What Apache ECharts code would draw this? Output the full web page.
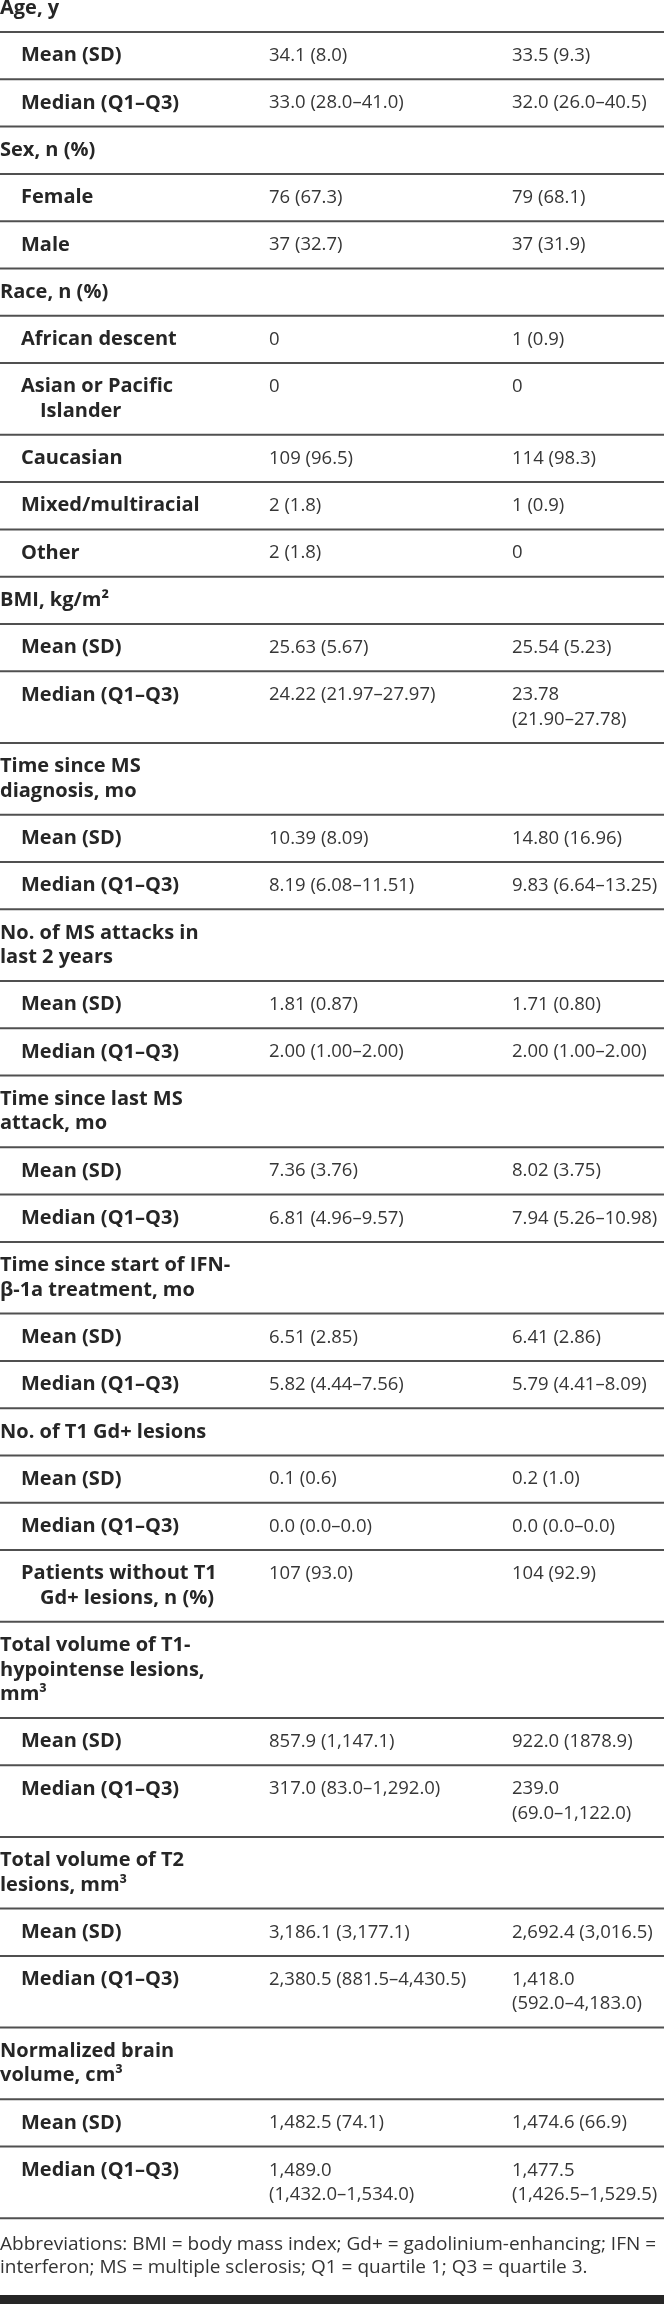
<!DOCTYPE html>
<html>
<head>
<meta charset="utf-8">
<script src="https://cdn.jsdelivr.net/npm/echarts@6/dist/echarts.min.js"></script>
<style>
  html, body { margin: 0; padding: 0; background: #ffffff; }
  #chart { width: 664px; height: 2304px; }
</style>
</head>
<body>
<div id="chart"></div>
<script>
// ---- Table content ----
const rowKinds = ['h','s','s','h','s','s','h','s','s','s','s','s','h','s','s','h','s','s','h','s','s','h','s','s','h','s','s','h','s','s','s','h','s','s','h','s','s','h','s','s'];
const rowLabels = [
  'Age, y', 'Mean (SD)', 'Median (Q1–Q3)',
  'Sex, n (%)', 'Female', 'Male',
  'Race, n (%)', 'African descent', 'Asian or Pacific\nIslander', 'Caucasian', 'Mixed/multiracial', 'Other',
  'BMI, kg/m²', 'Mean (SD)', 'Median (Q1–Q3)',
  'Time since MS\ndiagnosis, mo', 'Mean (SD)', 'Median (Q1–Q3)',
  'No. of MS attacks in\nlast 2 years', 'Mean (SD)', 'Median (Q1–Q3)',
  'Time since last MS\nattack, mo', 'Mean (SD)', 'Median (Q1–Q3)',
  'Time since start of IFN-\nβ-1a treatment, mo', 'Mean (SD)', 'Median (Q1–Q3)',
  'No. of T1 Gd+ lesions', 'Mean (SD)', 'Median (Q1–Q3)', 'Patients without T1\nGd+ lesions, n (%)',
  'Total volume of T1-\nhypointense lesions,\nmm³', 'Mean (SD)', 'Median (Q1–Q3)',
  'Total volume of T2\nlesions, mm³', 'Mean (SD)', 'Median (Q1–Q3)',
  'Normalized brain\nvolume, cm³', 'Mean (SD)', 'Median (Q1–Q3)'
];
const groupOne = [
  '', '34.1 (8.0)', '33.0 (28.0–41.0)',
  '', '76 (67.3)', '37 (32.7)',
  '', '0', '0', '109 (96.5)', '2 (1.8)', '2 (1.8)',
  '', '25.63 (5.67)', '24.22 (21.97–27.97)',
  '', '10.39 (8.09)', '8.19 (6.08–11.51)',
  '', '1.81 (0.87)', '2.00 (1.00–2.00)',
  '', '7.36 (3.76)', '6.81 (4.96–9.57)',
  '', '6.51 (2.85)', '5.82 (4.44–7.56)',
  '', '0.1 (0.6)', '0.0 (0.0–0.0)', '107 (93.0)',
  '', '857.9 (1,147.1)', '317.0 (83.0–1,292.0)',
  '', '3,186.1 (3,177.1)', '2,380.5 (881.5–4,430.5)',
  '', '1,482.5 (74.1)', '1,489.0\n(1,432.0–1,534.0)'
];
const groupTwo = [
  '', '33.5 (9.3)', '32.0 (26.0–40.5)',
  '', '79 (68.1)', '37 (31.9)',
  '', '1 (0.9)', '0', '114 (98.3)', '1 (0.9)', '0',
  '', '25.54 (5.23)', '23.78\n(21.90–27.78)',
  '', '14.80 (16.96)', '9.83 (6.64–13.25)',
  '', '1.71 (0.80)', '2.00 (1.00–2.00)',
  '', '8.02 (3.75)', '7.94 (5.26–10.98)',
  '', '6.41 (2.86)', '5.79 (4.41–8.09)',
  '', '0.2 (1.0)', '0.0 (0.0–0.0)', '104 (92.9)',
  '', '922.0 (1878.9)', '239.0\n(69.0–1,122.0)',
  '', '2,692.4 (3,016.5)', '1,418.0\n(592.0–4,183.0)',
  '', '1,474.6 (66.9)', '1,477.5\n(1,426.5–1,529.5)'
];
const footnoteLines = [
  'Abbreviations: BMI = body mass index; Gd+ = gadolinium-enhancing; IFN =',
  'interferon; MS = multiple sclerosis; Q1 = quartile 1; Q3 = quartile 3.'
];

// ---- Layout / style constants ----
const W = 664, H = 2304;
const ROW_H = 47.3, LINE_H = 24.4, FIRST_TOP = -15.3;
const X_HEAD = 0, X_SUB = 21, X_SUB_CONT = 40, X_C2 = 269, X_C3 = 512;
const FONT = '"Open Sans", "Noto Sans", sans-serif';
const LABEL_FONT = 'bold 20px ' + FONT;
const VALUE_FONT = 'normal 18.5px ' + FONT;

function nLines(s) { return s ? s.split('\n').length : 1; }
const rowTops = [];
let acc = FIRST_TOP;
for (let i = 0; i < rowLabels.length; i++) {
  rowTops.push(acc);
  const n = Math.max(nLines(rowLabels[i]), nLines(groupOne[i]), nLines(groupTwo[i]));
  acc += ROW_H + (n - 1) * LINE_H;
}
const rowBottoms = rowTops.map((t, i) => (i + 1 < rowTops.length ? rowTops[i + 1] : acc));

const chart = echarts.init(document.getElementById('chart'), null, { renderer: 'canvas' });

function textEl(api, x, yUnits, str, bold) {
  const p = api.coord([x, yUnits]);
  return {
    type: 'text',
    style: {
      x: p[0], y: p[1], text: str,
      font: bold ? LABEL_FONT : VALUE_FONT,
      fill: bold ? '#262626' : '#363636',
      verticalAlign: 'middle', align: 'left'
    }
  };
}

const option = {
  animation: false,
  backgroundColor: '#ffffff',
  grid: { left: 0, right: 0, top: 0, bottom: 0 },
  xAxis: { type: 'value', min: 0, max: W, show: false },
  yAxis: { type: 'value', min: 0, max: H, inverse: true, show: false },
  series: [{
    type: 'custom',
    coordinateSystem: 'cartesian2d',
    data: rowLabels.map((_, i) => [i]),
    renderItem: function (params, api) {
      const i = api.value(0);
      const top = rowTops[i];
      const children = [];
      const c0 = top + ROW_H / 2;
      rowLabels[i].split('\n').forEach((ln, k) => {
        const x = rowKinds[i] === 'h' ? X_HEAD : (k === 0 ? X_SUB : X_SUB_CONT);
        children.push(textEl(api, x, c0 + k * LINE_H, ln, true));
      });
      if (groupOne[i]) groupOne[i].split('\n').forEach((ln, k) => children.push(textEl(api, X_C2, c0 + k * LINE_H, ln, false)));
      if (groupTwo[i]) groupTwo[i].split('\n').forEach((ln, k) => children.push(textEl(api, X_C3, c0 + k * LINE_H, ln, false)));
      const a = api.coord([0, rowBottoms[i]]);
      const b = api.coord([W, rowBottoms[i]]);
      children.push({
        type: 'line',
        shape: { x1: a[0], y1: a[1], x2: b[0], y2: b[1] },
        style: { stroke: '#505050', lineWidth: 2 }
      });
      return { type: 'group', children: children };
    }
  }],
  graphic: [
    {
      type: 'text', left: 0, top: 2233,
      style: { text: footnoteLines.join('\n'), font: 'normal 19px ' + FONT, fill: '#333333', lineHeight: 23 }
    },
    {
      type: 'rect', left: 0, top: 2295,
      shape: { width: W, height: 9 },
      style: { fill: '#262626' }
    }
  ]
};
chart.setOption(option);
</script>
</body>
</html>
